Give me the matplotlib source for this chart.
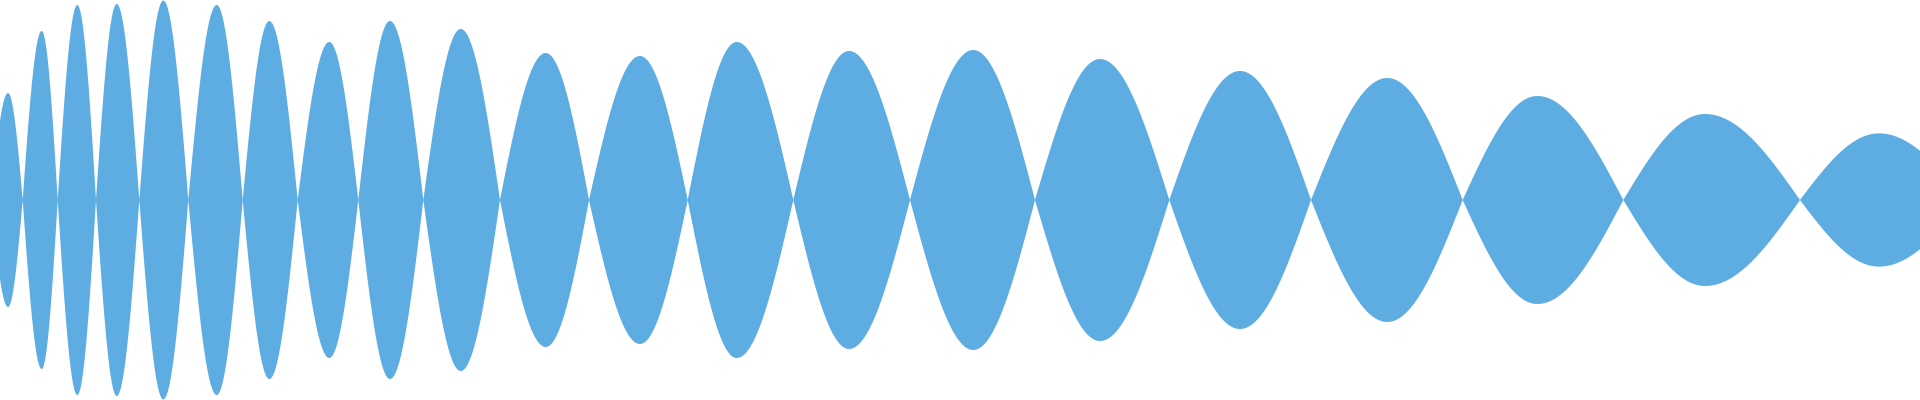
import matplotlib
matplotlib.use('Agg')
import matplotlib.pyplot as plt
import numpy as np

# zero crossings of the waveform (x position, pixels along the track)
crossings = [-9, 22.7, 57.7, 96, 139.3, 188.3, 242.7, 297.7, 358.3, 423.3, 500,
             589, 687.7, 793.3, 910, 1035, 1169.3, 1311, 1462.7, 1623.3, 1800, 1966]
# position of each lobe's peak
peak_x = [8, 41.7, 77.3, 116.7, 163.3, 216.7, 269.3, 329.3, 390, 460.7, 545.7,
          640, 736.7, 849, 973.3, 1100, 1240, 1387.3, 1537.3, 1705, 1879]
# peak amplitude of each lobe (fraction of full scale)
amps = [0.535, 0.845, 0.975, 0.98, 0.997, 0.975, 0.895, 0.79, 0.895, 0.855, 0.735,
        0.72, 0.79, 0.745, 0.75, 0.705, 0.645, 0.61, 0.52, 0.43, 0.333]

COLOR = '#5dade2'

xs, ys = [], []
for left, px, right, a in zip(crossings[:-1], peak_x, crossings[1:], amps):
    # rising half then falling half of each lobe
    t1 = np.linspace(0, 1, 60)
    xs.append(left + t1 * (px - left))
    ys.append(a * np.sin(t1 * np.pi / 2))
    t2 = np.linspace(0, 1, 60)[1:]
    xs.append(px + t2 * (right - px))
    ys.append(a * np.cos(t2 * np.pi / 2))
x = np.concatenate(xs)
y = np.concatenate(ys)

fig = plt.figure(figsize=(19.2, 4), dpi=100)
ax = fig.add_axes([0, 0, 1, 1])
ax.fill_between(x, y, -y, color=COLOR, linewidth=0)
ax.set_xlim(0, 1920)
ax.set_ylim(-1.0, 1.0)
ax.axis('off')
fig.savefig('out.png', dpi=100, facecolor='white')
